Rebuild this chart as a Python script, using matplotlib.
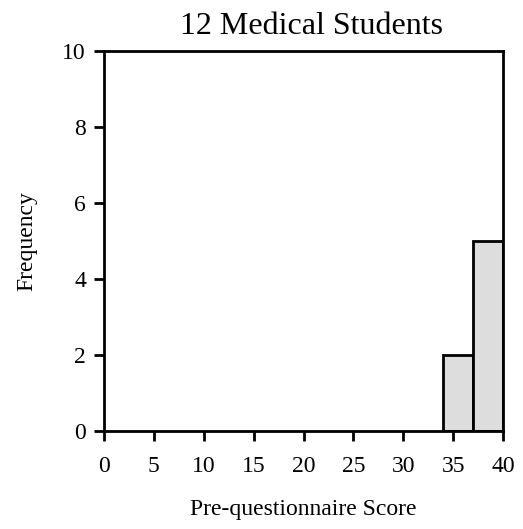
import matplotlib.pyplot as plt
import numpy as np

# histogram counts
bin_edges = [34, 37, 40]
counts = [2, 5]
x_ticks = [0, 5, 10, 15, 20, 25, 30, 35, 40]
y_ticks = [0, 2, 4, 6, 8, 10]

plt.rcParams['font.family'] = ['Liberation Serif', 'DejaVu Serif']

fig = plt.figure(figsize=(5.23, 5.29), dpi=100)
ax = fig.add_axes([104 / 523, 1 - 431 / 529, 399 / 523, 380 / 529])

lefts = np.array(bin_edges[:-1])
widths = np.diff(bin_edges)
ax.bar(lefts, counts, width=widths, align='edge',
       color='#dddddd', edgecolor='black', linewidth=2)

ax.set_xlim(0, 40)
ax.set_ylim(0, 10)
ax.set_xticks(x_ticks)
ax.set_yticks(y_ticks)
ax.tick_params(axis='x', labelsize=17, width=2, length=7, direction='out', pad=11)
ax.tick_params(axis='y', labelsize=17, width=2, length=7, direction='out', pad=6)
for s in ax.spines.values():
    s.set_linewidth(2)

ax.set_title("12 Medical Students", fontsize=23, pad=12, x=0.52)
ax.set_xlabel("Pre-questionnaire Score", fontsize=17, labelpad=16)
ax.set_ylabel("Frequency", fontsize=17, labelpad=18)

fig.savefig("out.png", dpi=100)
